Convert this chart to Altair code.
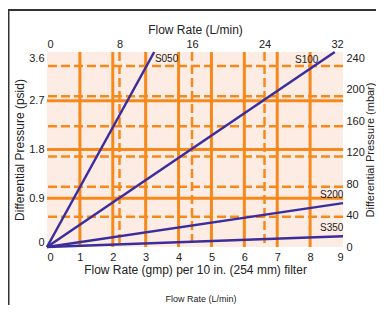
import altair as alt
import pandas as pd

# ---- data ----
filters = ["S050", "S100", "S200", "S350"]
end_gpm = [3.26, 8.75, 9.0, 9.0]
end_psid = [3.6, 3.6, 0.81, 0.20]
label_gpm = [3.28, 7.54, 8.30, 8.30]
label_psid = [3.47, 3.46, 0.96, 0.35]

gpm_ticks = [0, 1, 2, 3, 4, 5, 6, 7, 8, 9]
gpm_grid = [1, 2, 3, 4, 5, 6, 7, 8]
lpm_ticks = [0, 8, 16, 24, 32]
lpm_grid = [8, 16, 24]
psid_ticks = [0, 0.9, 1.8, 2.7, 3.6]
psid_grid = [0.9, 1.8, 2.7]
mbar_ticks = [0, 40, 80, 120, 160, 200, 240]
mbar_grid = [40, 80, 120, 160, 200, 240]
caption = ["Flow Rate (L/min)"]

# ---- styling ----
W, H = 296, 195
ORANGE = "#f7891c"
BLUE = "#3b2e9c"
BG = "#fdece3"
FONT = "Liberation Sans"
TXT = "#222222"

rows = []
for f, gx, gy in zip(filters, end_gpm, end_psid):
    rows.append({"filter": f, "gpm": 0.0, "psid": 0.0})
    rows.append({"filter": f, "gpm": gx, "psid": gy})
lines_df = pd.DataFrame(rows)
labels_df = pd.DataFrame({"filter": filters, "gpm": label_gpm, "psid": label_psid})

sx_gpm = alt.Scale(domain=[0, 9], nice=False, zero=False)
sy_psid = alt.Scale(domain=[0, 3.6], nice=False, zero=False)
sx_lpm = alt.Scale(domain=[0, 32.66], nice=False, zero=False)
sy_mbar_grid = alt.Scale(domain=[0, 258.6], nice=False, zero=False)
sy_mbar_axis = alt.Scale(domain=[0, 248.2], nice=False, zero=False)

v_solid = alt.Chart(pd.DataFrame({"gpm": gpm_grid})).mark_rule(
    color=ORANGE, strokeWidth=3
).encode(x=alt.X("gpm:Q", scale=sx_gpm, axis=None))

v_dashed = alt.Chart(pd.DataFrame({"lpm": lpm_grid})).mark_rule(
    color=ORANGE, strokeWidth=2.5, strokeDash=[9, 4]
).encode(
    x=alt.X(
        "lpm:Q",
        scale=sx_lpm,
        axis=alt.Axis(
            orient="top",
            values=lpm_ticks,
            title="Flow Rate (L/min)",
            labelPadding=3,
            titlePadding=2,
        ),
    )
)

h_solid = alt.Chart(pd.DataFrame({"psid": psid_grid})).mark_rule(
    color=ORANGE, strokeWidth=3
).encode(y=alt.Y("psid:Q", scale=sy_psid, axis=None))

h_dashed = alt.Chart(pd.DataFrame({"mbar": mbar_grid})).mark_rule(
    color=ORANGE, strokeWidth=2.5, strokeDash=[9, 4]
).encode(y=alt.Y("mbar:Q", scale=sy_mbar_grid, axis=None))

right_axis = alt.Chart(pd.DataFrame({"mbar": mbar_ticks})).mark_point(opacity=0).encode(
    y=alt.Y(
        "mbar:Q",
        scale=sy_mbar_axis,
        axis=alt.Axis(
            orient="right",
            values=mbar_ticks,
            title="Differential Pressure (mbar)",
            titleAngle=270,
            titleBaseline="top",
            titleFontSize=11,
            labelFlush=False,
            labelPadding=3,
            titlePadding=0,
        ),
    )
)

lines = alt.Chart(lines_df).mark_line(color=BLUE, strokeWidth=2.5).encode(
    x=alt.X(
        "gpm:Q",
        scale=sx_gpm,
        axis=alt.Axis(
            orient="bottom",
            values=gpm_ticks,
            title="Flow Rate (gmp) per 10 in. (254 mm) filter",
            labelPadding=4,
            titlePadding=2,
        ),
    ),
    y=alt.Y(
        "psid:Q",
        scale=sy_psid,
        axis=alt.Axis(
            orient="left",
            values=psid_ticks,
            title="Differential Pressure (psid)",
            labelExpr="datum.value == 0 ? '0' : format(datum.value, '.1f')",
            labelFlush=True,
            labelPadding=3,
            titlePadding=2,
        ),
    ),
    detail="filter:N",
)

labels = alt.Chart(labels_df).mark_text(
    align="left", baseline="middle", font=FONT, fontSize=10, color=TXT
).encode(
    x=alt.X("gpm:Q", scale=sx_gpm, axis=None),
    y=alt.Y("psid:Q", scale=sy_psid, axis=None),
    text="filter:N",
)

caption_text = alt.Chart(pd.DataFrame({"t": caption})).mark_text(
    align="center", baseline="middle", font=FONT, fontSize=9, color=TXT
).encode(x=alt.value(154), y=alt.value(247), text="t:N")

frame_left = alt.Chart(pd.DataFrame({"a": [0]})).mark_rule(
    color="#333333", strokeWidth=2
).encode(x=alt.value(-38.5), y=alt.value(-42), y2=alt.value(253))

frame_top = alt.Chart(pd.DataFrame({"a": [0]})).mark_rule(
    color="#333333", strokeWidth=2
).encode(x=alt.value(-39.5), x2=alt.value(330), y=alt.value(-42))

chart = (
    alt.layer(
        v_solid, v_dashed, h_solid, h_dashed, right_axis, lines, labels,
        caption_text, frame_left, frame_top,
    )
    .resolve_scale(x="independent", y="independent")
    .properties(
        width=W,
        height=H,
        autosize=alt.AutoSizeParams(type="none"),
        padding={"left": 39, "top": 44, "right": 33, "bottom": 58},
    )
    .configure_view(fill=BG, stroke=None)
    .configure_axis(
        labelFont=FONT,
        labelFontSize=11,
        labelColor=TXT,
        titleFont=FONT,
        titleFontSize=12,
        titleFontWeight="normal",
        titleColor=TXT,
        ticks=False,
        domain=False,
        grid=False,
    )
)

chart.save("out.html", embed_options={"renderer": "svg", "actions": False})
